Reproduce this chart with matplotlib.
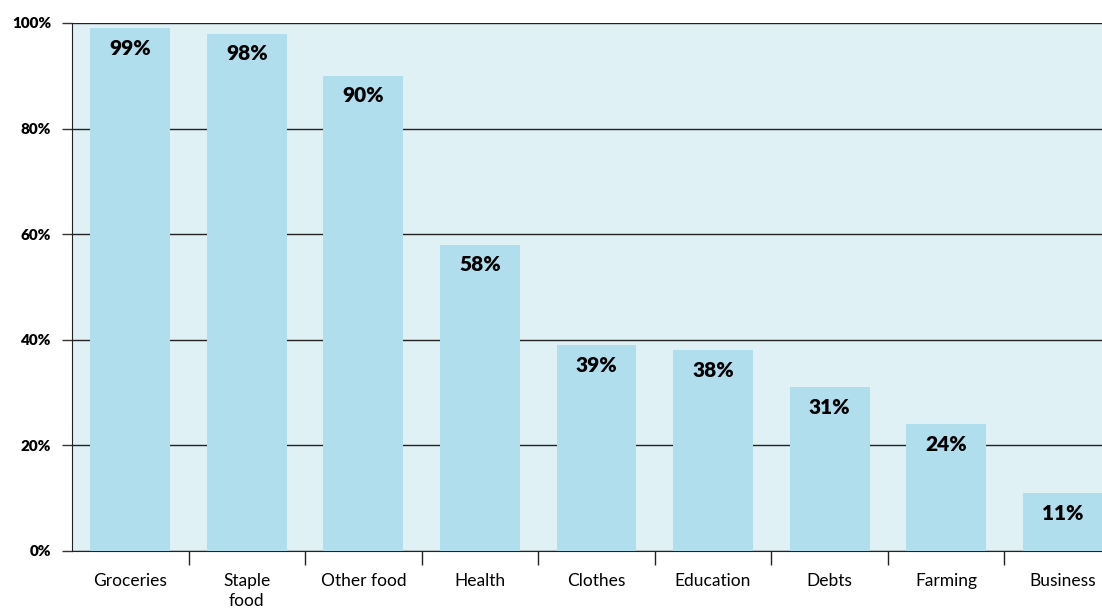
import matplotlib.pyplot as plt
import numpy as np

categories = ['Groceries', 'Staple\nfood', 'Other food', 'Health', 'Clothes',
              'Education', 'Debts', 'Farming', 'Business']
values = [99, 98, 90, 58, 39, 38, 31, 24, 11]
y_ticks = [0, 20, 40, 60, 80, 100]
y_labels = ['0%', '20%', '40%', '60%', '80%', '100%']

plt.rcParams['font.family'] = ['Lato', 'DejaVu Sans']

fig = plt.figure(figsize=(11.02, 6.08), dpi=100)
ax = fig.add_axes([72 / 1102, 57 / 608, 1049 / 1102, 528 / 608])
ax.set_facecolor('#e0f1f6')

x = np.arange(len(categories))
ax.set_axisbelow(True)
ax.yaxis.grid(True, color='#222222', linewidth=1)
bars = ax.bar(x, values, width=0.685, color='#b0deed', zorder=3, clip_on=False)

for xi, v in zip(x, values):
    ax.annotate(f'{v}%', (xi, v), xytext=(0, -14.5), textcoords='offset points',
                ha='center', va='center', fontsize=15, fontweight='heavy', zorder=4)

ax.set_xlim(-0.5, 8.5)
ax.set_ylim(0, 100)
ax.set_yticks(y_ticks)
ax.set_yticklabels(y_labels, fontsize=11, fontweight='heavy')
ax.tick_params(axis='y', length=7, width=1, pad=8, color='#333333')

ax.set_xticks(x)
ax.set_xticklabels(categories, fontsize=12.5, linespacing=1.3)
ax.set_xticks(x[:-1] + 0.5, minor=True)
ax.tick_params(axis='x', which='major', length=0, pad=16)
ax.tick_params(axis='x', which='minor', length=10, width=1, color='#222222')

for s in ['top', 'right']:
    ax.spines[s].set_visible(False)
ax.spines['left'].set_color('#222222')
ax.spines['bottom'].set_color('#222222')

fig.savefig('out.png', dpi=100)
